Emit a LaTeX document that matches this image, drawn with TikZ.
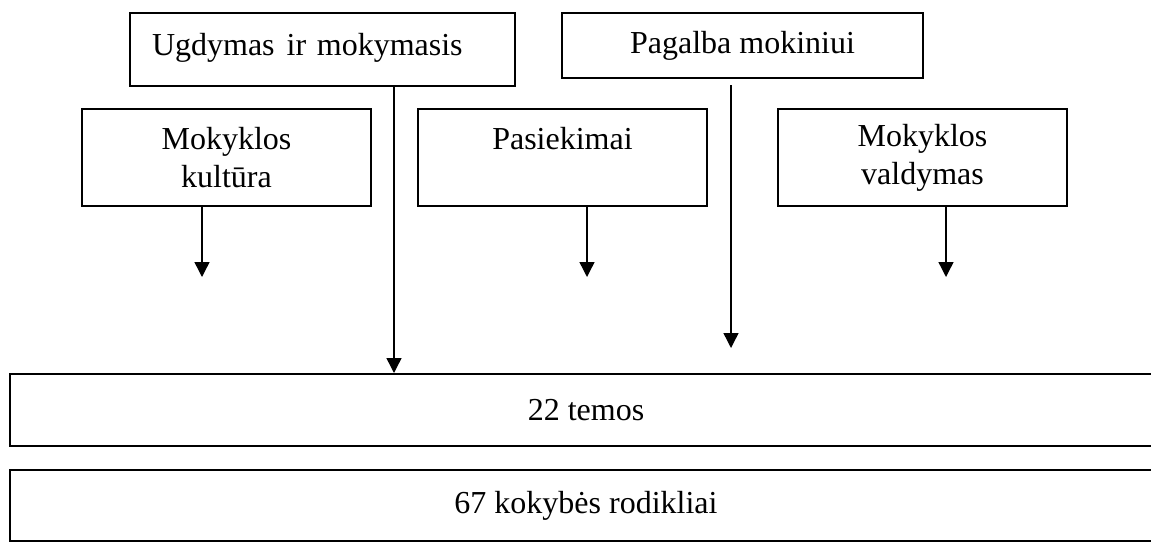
\documentclass[tikz,border=0pt]{standalone}
\usepackage{fontspec}
\setmainfont{Liberation Serif}
\usetikzlibrary{positioning, arrows.meta}
\tikzset{
  topbox/.style={draw, line width=0.8pt, inner sep=0pt, align=center,
    font=\fontsize{16}{19}\selectfont},
  midbox/.style={topbox, minimum width=144.5pt, minimum height=48.5pt},
  widebox/.style={topbox, line width=1pt, minimum width=576pt},
  arr/.style={-{Triangle[length=7.5pt,width=7.5pt]}, line width=0.7pt}
}

\begin{document}
\begin{tikzpicture}[x=0.5pt,y=-0.5pt]
\useasboundingbox (0,0) rectangle (1151,542);
% top row
\node[topbox, minimum width=192.5pt, minimum height=36.5pt, text width=170.5pt,
  align=left, inner xsep=11pt, text depth=5pt] (ugd) at (322.5,49.5)
  {Ugdymas\hspace{6pt}ir mokymasis};
\node[topbox, minimum width=180.5pt, minimum height=32.5pt] (pag) at (742.5,45.5)
  {Pagalba mokiniui};
% middle row
\node[midbox] (kul) at (226.5,157.5) {Mokyklos\\kultūra};
\node[midbox] (pas) at (562.5,157.5) {Pasiekimai\\\mbox{}};
\node[midbox] (val) at (922.5,157.5) {Mokyklos\\valdymas};
% bottom boxes
\node[widebox, minimum height=36pt] (temos) at (586,410) {22 temos};
\node[widebox, minimum height=35.5pt] (rod) at (586,505.5) {67 kokybės rodikliai};
% arrows
\coordinate (kulx) at (202,277);
\coordinate (pasx) at (587,277);
\coordinate (valx) at (946,277);
\draw[arr] (kul.south -| kulx) -- (kulx);
\draw[arr] (pas.south -| pasx) -- (pasx);
\draw[arr] (val.south -| valx) -- (valx);
\coordinate (ugdx) at (394,0);
\draw[arr] (ugd.south -| ugdx) -- (temos.north -| ugdx);
\coordinate (pagtop) at (731,85);
\coordinate (pagend) at (731,348);
\draw[arr] (pagtop) -- (pagend);
\end{tikzpicture}
\end{document}
